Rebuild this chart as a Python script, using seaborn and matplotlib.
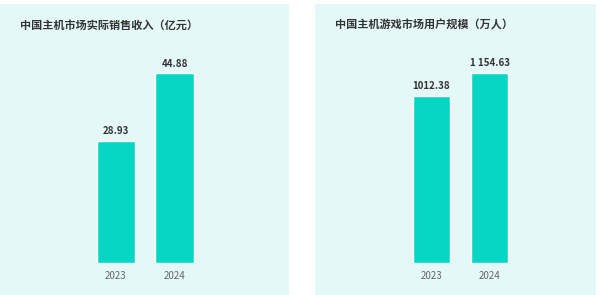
import matplotlib
matplotlib.use("Agg")
import matplotlib.pyplot as plt
from matplotlib.patches import Rectangle
import seaborn as sns
import pandas as pd

years = ["2023", "2024"]
revenue = [28.93, 44.88]
revenue_labels = ["28.93", "44.88"]
users = [1012.38, 1154.63]
user_labels = ["1012.38", "1 154.63"]
title_left = "中国主机市场实际销售收入（亿元）"
title_right = "中国主机游戏市场用户规模（万人）"

sns.set_theme(style="white")
plt.rcParams['font.family'] = ['Noto Sans CJK SC', 'DejaVu Sans']

W, H = 600, 295
fig = plt.figure(figsize=(6, 2.95), dpi=100)
fig.patch.set_facecolor("white")

bg = "#e4f8f7"
bar_color = "#06d6c3"

def px_rect(x0, y0_top, x1, y1_top):
    return [x0 / W, 1 - y1_top / H, (x1 - x0) / W, (y1_top - y0_top) / H]

# panel backgrounds
for (x0, x1) in [(0, 289), (315, 596)]:
    r = px_rect(x0, 4, x1, 295)
    fig.patches.append(Rectangle((r[0], r[1]), r[2], r[3], transform=fig.transFigure,
                                 facecolor=bg, edgecolor="none", zorder=-10))

def make_panel(x_left_px, x_right_px, values, labels, ymax, title, title_x):
    ax = fig.add_axes(px_rect(x_left_px, 40, x_right_px, 263))
    ax.set_zorder(5)
    ax.set_facecolor("none")
    df = pd.DataFrame({"year": years, "value": values})
    sns.barplot(data=df, x="year", y="value", color=bar_color, width=0.65,
                saturation=1, ax=ax)
    ax.set_xlim(-0.8, 1.8)
    ax.set_ylim(0, ymax)
    ax.bar_label(ax.containers[0], labels=labels, padding=3.5, fontsize=7,
                 fontweight="bold", color="#333333")
    for s in ax.spines.values():
        s.set_visible(False)
    ax.set_yticks([])
    ax.set_xlabel("")
    ax.set_ylabel("")
    ax.tick_params(axis="x", length=0, pad=6, labelsize=7, labelcolor="#666666")
    fig.text(title_x / W, 1 - 25 / H, title, fontsize=8, fontweight="bold",
             color="#333333", ha="left", va="center", zorder=6)
    return ax

make_panel(69.2, 221.3, revenue, revenue_labels, 223 / 4.225, title_left, 20)
make_panel(385.1, 535.9, users, user_labels, 223 / 0.1648, title_right, 335)

fig.savefig("out.png", dpi=100, facecolor="white")
